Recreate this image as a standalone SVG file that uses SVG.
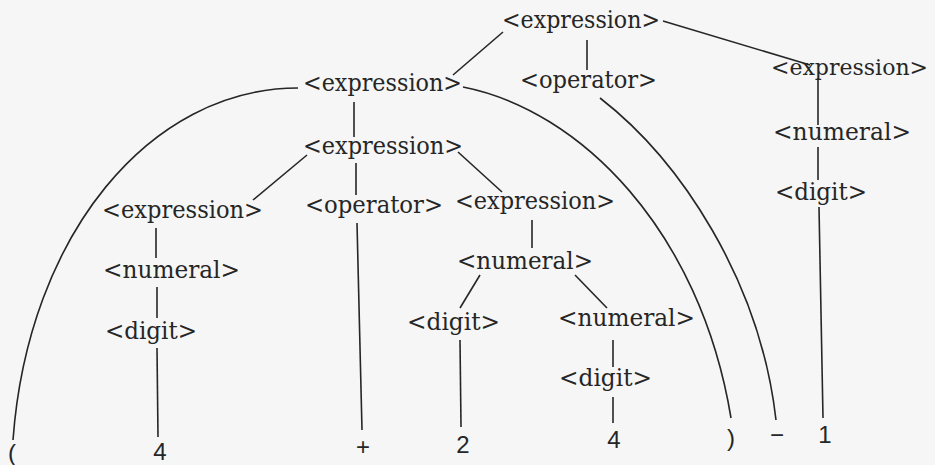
<svg xmlns="http://www.w3.org/2000/svg" width="935" height="465" viewBox="0 0 935 465">
<style>
.nt{font-family:"DejaVu Serif","Liberation Serif",serif;font-size:24px;fill:#262626}
.t{font-family:"Liberation Sans",Arial,sans-serif;font-size:24px;fill:#262626}
.c line,.c path{stroke:#262626;stroke-width:1.6;fill:none}
</style>
<rect width="935" height="465" fill="#f6f6f6"/>
<g class="c" id="connectors">
<line x1="503" y1="32" x2="453" y2="75"/>
<line x1="587" y1="40" x2="587" y2="70"/>
<line x1="663" y1="21" x2="810" y2="65"/>
<line x1="354" y1="102" x2="354" y2="137"/>
<path d="M298,88 C150,88 28,235 13,440"/>
<path d="M463,87 C580,110 700,230 731,418"/>
<path d="M600,98 C680,160 760,280 776,420"/>
<line x1="307" y1="155" x2="253" y2="200"/>
<line x1="356" y1="163" x2="356" y2="195"/>
<line x1="458" y1="152" x2="502" y2="192"/>
<line x1="357" y1="223" x2="362" y2="430"/>
<line x1="156" y1="228" x2="156" y2="258"/>
<line x1="157" y1="287" x2="157" y2="318"/>
<line x1="157" y1="348" x2="158" y2="437"/>
<line x1="532" y1="220" x2="532" y2="248"/>
<line x1="480" y1="275" x2="460" y2="308"/>
<line x1="575" y1="275" x2="607" y2="308"/>
<line x1="460" y1="340" x2="461" y2="427"/>
<line x1="613" y1="340" x2="613" y2="367"/>
<line x1="613" y1="397" x2="613" y2="423"/>
<line x1="818" y1="78" x2="818" y2="125"/>
<line x1="818" y1="147" x2="818" y2="180"/>
<line x1="819" y1="207" x2="823" y2="418"/>
</g>
<g id="e0"><text class="nt" x="502" y="28" textLength="158" lengthAdjust="spacingAndGlyphs">&lt;expression&gt;</text></g>
<g id="e1"><text class="nt" x="303" y="91" textLength="159" lengthAdjust="spacingAndGlyphs">&lt;expression&gt;</text></g>
<g id="op0"><text class="nt" x="520" y="88" textLength="137" lengthAdjust="spacingAndGlyphs">&lt;operator&gt;</text></g>
<g id="e2"><text class="nt" x="771" y="75" style="font-size:22px" textLength="157" lengthAdjust="spacingAndGlyphs">&lt;expression&gt;</text></g>
<g id="n2"><text class="nt" x="773" y="140" textLength="138" lengthAdjust="spacingAndGlyphs">&lt;numeral&gt;</text></g>
<g id="d2"><text class="nt" x="775" y="200" textLength="92" lengthAdjust="spacingAndGlyphs">&lt;digit&gt;</text></g>
<g id="e3"><text class="nt" x="303" y="154" textLength="160" lengthAdjust="spacingAndGlyphs">&lt;expression&gt;</text></g>
<g id="e4"><text class="nt" x="102" y="218" textLength="161" lengthAdjust="spacingAndGlyphs">&lt;expression&gt;</text></g>
<g id="op1"><text class="nt" x="305" y="213" textLength="138" lengthAdjust="spacingAndGlyphs">&lt;operator&gt;</text></g>
<g id="e5"><text class="nt" x="455" y="209" textLength="160" lengthAdjust="spacingAndGlyphs">&lt;expression&gt;</text></g>
<g id="n4"><text class="nt" x="103" y="278" textLength="137" lengthAdjust="spacingAndGlyphs">&lt;numeral&gt;</text></g>
<g id="d4"><text class="nt" x="105" y="339" textLength="92" lengthAdjust="spacingAndGlyphs">&lt;digit&gt;</text></g>
<g id="n5"><text class="nt" x="457" y="269" textLength="136" lengthAdjust="spacingAndGlyphs">&lt;numeral&gt;</text></g>
<g id="d5"><text class="nt" x="407" y="330" textLength="93" lengthAdjust="spacingAndGlyphs">&lt;digit&gt;</text></g>
<g id="n6"><text class="nt" x="558" y="326" textLength="137" lengthAdjust="spacingAndGlyphs">&lt;numeral&gt;</text></g>
<g id="d6"><text class="nt" x="559" y="386" textLength="93" lengthAdjust="spacingAndGlyphs">&lt;digit&gt;</text></g>
<g id="t1"><text class="t" x="12" y="461" text-anchor="middle">(</text></g>
<g id="t2"><text class="t" x="160" y="460" text-anchor="middle">4</text></g>
<g id="t3"><text class="t" x="363" y="455" text-anchor="middle">+</text></g>
<g id="t4"><text class="t" x="463" y="453" text-anchor="middle">2</text></g>
<g id="t5"><text class="t" x="614" y="448" text-anchor="middle">4</text></g>
<g id="t6"><text class="t" x="731" y="446" text-anchor="middle">)</text></g>
<g id="t7"><text class="t" x="777" y="443" text-anchor="middle">−</text></g>
<g id="t8"><text class="t" x="825" y="443" text-anchor="middle">1</text></g>
</svg>
